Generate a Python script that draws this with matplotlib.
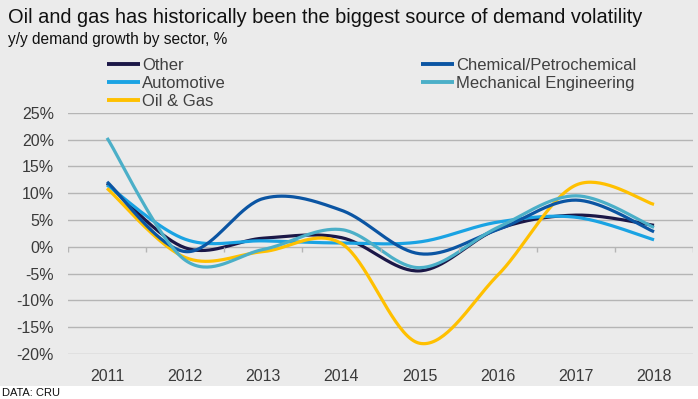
import numpy as np
import matplotlib.pyplot as plt
from matplotlib.patches import Rectangle

plt.rcParams['font.family'] = ['Liberation Sans', 'DejaVu Sans']

# y/y demand growth by sector, %
years = ['2011', '2012', '2013', '2014', '2015', '2016', '2017', '2018']
other = [11.8, -0.2, 1.6, 1.7, -4.5, 3.3, 5.9, 4.0]
chemical = [12.1, -0.9, 9.0, 6.8, -1.3, 3.2, 8.7, 2.8]
automotive = [11.5, 1.4, 1.1, 0.7, 0.9, 4.6, 5.5, 1.3]
mechanical = [20.3, -2.5, -0.5, 3.2, -3.9, 3.6, 9.5, 3.6]
oil_gas = [10.9, -2.0, -0.9, 0.6, -18.0, -5.3, 11.5, 7.9]

series = [
    ('Other', other, '#1b1747'),
    ('Automotive', automotive, '#1aa3e3'),
    ('Oil & Gas', oil_gas, '#ffc000'),
    ('Chemical/Petrochemical', chemical, '#0b55a3'),
    ('Mechanical Engineering', mechanical, '#4bafc8'),
]


def smooth(x, y, n=40):
    # catmull-rom style bezier, roughly what excel does for smoothed lines
    x = np.asarray(x, float)
    y = np.asarray(y, float)
    px = np.concatenate([[x[0]], x, [x[-1]]])
    py = np.concatenate([[y[0]], y, [y[-1]]])
    t = np.linspace(0, 1, n)[:, None]
    out_x, out_y = [], []
    for i in range(1, len(px) - 2):
        p0, p1, p2, p3 = [np.array([px[j], py[j]]) for j in (i - 1, i, i + 1, i + 2)]
        c1 = p1 + (p2 - p0) / 6
        c2 = p2 - (p3 - p1) / 6
        pts = ((1 - t) ** 3) * p1 + 3 * ((1 - t) ** 2) * t * c1 + 3 * (1 - t) * t ** 2 * c2 + t ** 3 * p2
        out_x.append(pts[:, 0])
        out_y.append(pts[:, 1])
    return np.concatenate(out_x), np.concatenate(out_y)


fig = plt.figure(figsize=(6.98, 3.99), dpi=100, facecolor='white')
fig.patches.append(Rectangle((0, 0.033), 1, 0.967, transform=fig.transFigure,
                             facecolor='#ebebeb', edgecolor='none', zorder=-10))

ax = fig.add_axes([0.0974, 0.1128, 0.8956, 0.6047])
ax.set_facecolor('none')

xpos = np.arange(len(years))
for name, vals, col in series:
    sx, sy = smooth(xpos, vals)
    ax.plot(sx, sy, color=col, lw=2.3, label=name, solid_capstyle='butt')

ax.set_xlim(-0.5, len(years) - 0.5)
ax.set_ylim(-20, 25)
ax.set_yticks(np.arange(-20, 26, 5))
ax.set_yticklabels([f'{v}%' for v in range(-20, 26, 5)])
ax.set_xticks(xpos)
ax.set_xticklabels(years)
ax.grid(axis='y', color='#b5b5b5', lw=1.0)
ax.set_axisbelow(True)
for s in ax.spines.values():
    s.set_visible(False)
ax.tick_params(length=0, labelsize=11.5, colors='#3a3a3a')
ax.tick_params(axis='x', pad=11)
ax.tick_params(axis='y', pad=10)

# small category ticks on the zero line
ax.vlines(np.arange(len(years) + 1) - 0.5, -0.9, 0, color='#b5b5b5', lw=1.0)

fig.text(0.012, 0.955, 'Oil and gas has historically been the biggest source of demand volatility',
         fontsize=14.4, color='#111111', va='center')
fig.text(0.012, 0.902, 'y/y demand growth by sector, %', fontsize=11.2, color='#111111', va='center')
fig.text(0.003, 0.016, 'DATA: CRU', fontsize=8, color='#111111', va='center')

leg = ax.legend(loc='upper left', bbox_to_anchor=(0.1533, 0.855), bbox_transform=fig.transFigure,
                ncol=2, frameon=False, fontsize=12, handlelength=2.0, handletextpad=0.1,
                columnspacing=11.7, labelspacing=0.17, borderpad=0, borderaxespad=0)
for t in leg.get_texts():
    t.set_color('#404040')
for h in leg.get_lines():
    h.set_linewidth(2.8)

fig.savefig('out.png', dpi=100, facecolor=fig.get_facecolor())
